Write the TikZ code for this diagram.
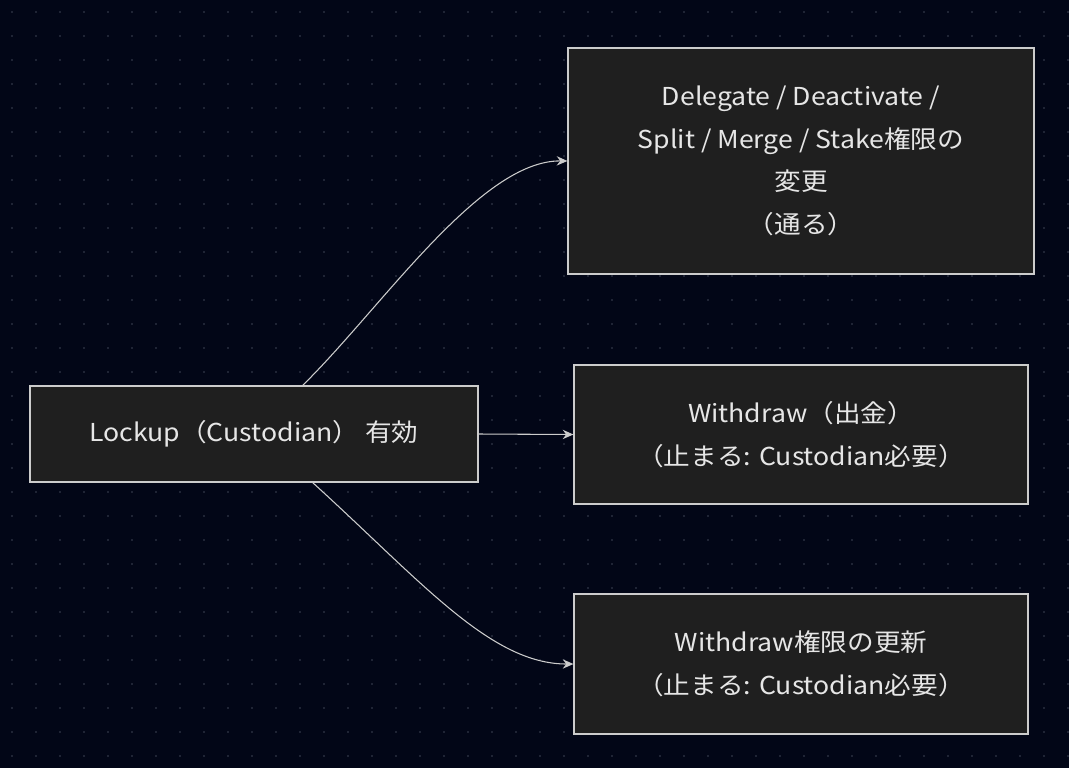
\documentclass[tikz,border=0pt]{standalone}
\usepackage{fontspec}
\setmainfont{Noto Sans CJK JP}[FakeStretch=1.08]
\usetikzlibrary{arrows.meta}
\definecolor{bg}{HTML}{020617}
\definecolor{boxfill}{HTML}{1F1F1F}
\definecolor{boxline}{HTML}{CCCCCC}
\definecolor{dotc}{HTML}{2A3040}
\definecolor{txt}{HTML}{E6E6E6}
\begin{document}
\begin{tikzpicture}[x=0.75pt,y=-0.75pt,
  box/.style={draw=boxline,line width=0.9pt,fill=boxfill,text=txt,align=center,font=\fontsize{18.5}{32}\selectfont,inner sep=0pt},
  link/.style={draw=boxline,line width=0.8pt,-{Stealth[length=8pt,width=7pt]}}]
\fill[bg] (0,0) rectangle (1069,768);
\useasboundingbox (0,0) rectangle (1069,768);
\foreach \i in {0,...,44}{\foreach \j in {0,...,32}{\fill[dotc] (\i*24+12,\j*24+12) circle (0.8pt);}}
\node[box,minimum width=448*0.75pt,minimum height=96*0.75pt] (a) at (254,434) {Lockup（Custodian） 有効};
\node[box,minimum width=466*0.75pt,minimum height=226*0.75pt] (b) at (801,161) {Delegate / Deactivate /\\Split / Merge / Stake権限の\\変更\\（通る）};
\node[box,minimum width=454*0.75pt,minimum height=139*0.75pt] (c) at (801,434.5) {Withdraw（出金）\\（止まる: Custodian必要）};
\node[box,minimum width=454*0.75pt,minimum height=140*0.75pt] (d) at (801,664) {Withdraw権限の更新\\（止まる: Custodian必要）};
\draw[link] (302,386) .. controls (380,310) and (480,160) .. (b.west);
\draw[link] (a.east) -- (c.west);
\draw[link] (312,482) .. controls (420,580) and (490,664) .. (d.west);
\end{tikzpicture}
\end{document}
